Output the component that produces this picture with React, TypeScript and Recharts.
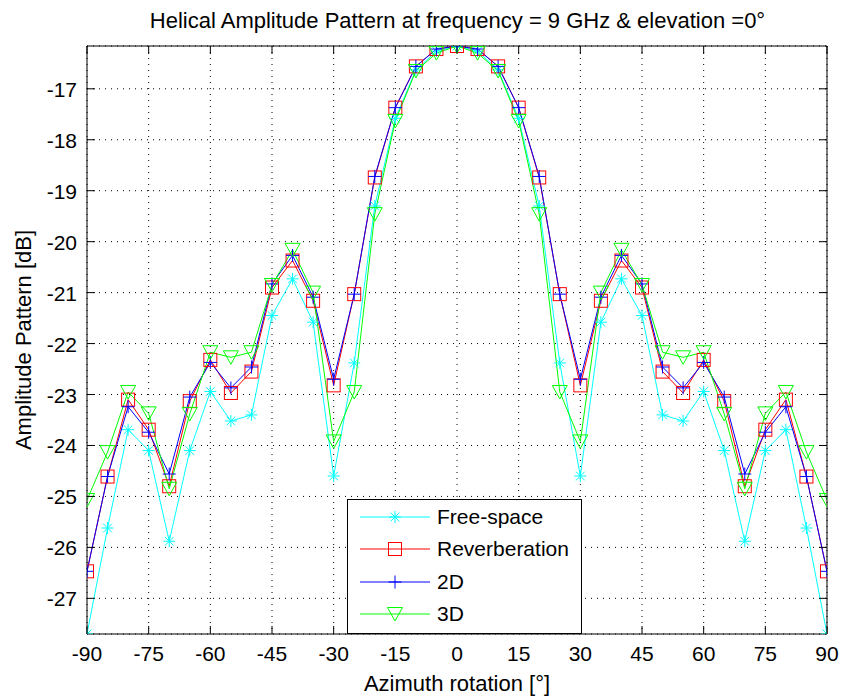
import { LineChart, Line, XAxis, YAxis, CartesianGrid, Legend } from "recharts";

const azimuth = [-90, -85, -80, -75, -70, -65, -60, -55, -50, -45, -40, -35, -30, -25, -20, -15, -10, -5, 0,
  5, 10, 15, 20, 25, 30, 35, 40, 45, 50, 55, 60, 65, 70, 75, 80, 85, 90];

const freeSpace = [-27.7, -25.62, -23.69, -24.1, -25.88, -24.1, -22.94, -23.52, -23.4, -21.45, -20.73, -21.58, -24.6, -22.38, -19.3, -17.58, -16.63, -16.26, -16.16,
  -16.26, -16.63, -17.58, -19.3, -22.38, -24.6, -21.58, -20.73, -21.45, -23.4, -23.52, -22.94, -24.1, -25.88, -24.1, -23.69, -25.62, -27.7];

const reverberation = [-26.47, -24.61, -23.1, -23.69, -24.8, -23.13, -22.32, -22.97, -22.55, -20.9, -20.37, -21.16, -22.82, -21.03, -18.74, -17.37, -16.56, -16.22, -16.16,
  -16.22, -16.56, -17.37, -18.74, -21.03, -22.82, -21.16, -20.37, -20.9, -22.55, -22.97, -22.32, -23.13, -24.8, -23.69, -23.1, -24.61, -26.47];

const twoD = [-26.47, -24.61, -23.24, -23.74, -24.56, -23.05, -22.37, -22.87, -22.46, -20.83, -20.27, -21.09, -22.7, -21.03, -18.72, -17.37, -16.56, -16.22, -16.16,
  -16.22, -16.56, -17.37, -18.72, -21.03, -22.7, -21.09, -20.27, -20.83, -22.46, -22.87, -22.37, -23.05, -24.56, -23.74, -23.24, -24.61, -26.47];

const threeD = [-25.07, -24.13, -22.95, -23.37, -24.85, -23.38, -22.17, -22.27, -22.17, -20.85, -20.16, -21.0, -23.92, -22.95, -19.46, -17.63, -16.65, -16.3, -16.16,
  -16.3, -16.65, -17.63, -19.46, -22.95, -23.92, -21.0, -20.16, -20.85, -22.17, -22.27, -22.17, -23.38, -24.85, -23.37, -22.95, -24.13, -25.07];

const xTicks = [-90, -75, -60, -45, -30, -15, 0, 15, 30, 45, 60, 75, 90];
const yTicks = [-27, -26, -25, -24, -23, -22, -21, -20, -19, -18, -17];
const yDomain = [-27.7, -16.16];

const data = azimuth.map((az, i) => ({
  az,
  free: freeSpace[i],
  reverb: reverberation[i],
  twoD: twoD[i],
  threeD: threeD[i],
}));

const FONT = '"Liberation Sans", Arial, sans-serif';
const PLOT_W = 741;

// marker shapes, matlab style
function Star({ cx, cy, stroke }: any) {
  const r = 6, d = 4.3;
  return (
    <g stroke={stroke} strokeWidth={1}>
      <line x1={cx - r} y1={cy} x2={cx + r} y2={cy} />
      <line x1={cx} y1={cy - r} x2={cx} y2={cy + r} />
      <line x1={cx - d} y1={cy - d} x2={cx + d} y2={cy + d} />
      <line x1={cx - d} y1={cy + d} x2={cx + d} y2={cy - d} />
    </g>
  );
}

function Square({ cx, cy, stroke }: any) {
  return <rect x={cx - 6.5} y={cy - 6.5} width={13} height={13} fill="none" stroke={stroke} strokeWidth={1} />;
}

function Plus({ cx, cy, stroke }: any) {
  const r = 6.5;
  return (
    <g stroke={stroke} strokeWidth={1}>
      <line x1={cx - r} y1={cy} x2={cx + r} y2={cy} />
      <line x1={cx} y1={cy - r} x2={cx} y2={cy + r} />
    </g>
  );
}

function TriDown({ cx, cy, stroke }: any) {
  const pts = `${cx - 7.5},${cy - 6.5} ${cx + 7.5},${cy - 6.5} ${cx},${cy + 7}`;
  return <polygon points={pts} fill="none" stroke={stroke} strokeWidth={1} />;
}

const series = [
  { key: "free", name: "Free-space", color: "#00ffff", Marker: Star },
  { key: "reverb", name: "Reverberation", color: "#ff0000", Marker: Square },
  { key: "twoD", name: "2D", color: "#0000ff", Marker: Plus },
  { key: "threeD", name: "3D", color: "#00ff00", Marker: TriDown },
];

function BottomTick({ x, y, payload }: any) {
  return (
    <g>
      <line x1={x} x2={x} y1={y} y2={y - 8} stroke="#000" />
      <text x={x} y={y + 27} textAnchor="middle" fontSize={21} fontFamily={FONT} fill="#000">{payload.value}</text>
    </g>
  );
}

function TopTick({ x, y }: any) {
  return <line x1={x} x2={x} y1={y} y2={y + 8} stroke="#000" />;
}

function LeftTick({ x, y, payload }: any) {
  return (
    <g>
      <line x1={x} x2={x + 8} y1={y} y2={y} stroke="#000" />
      <text x={x - 10} y={y + 8} textAnchor="end" fontSize={21} fontFamily={FONT} fill="#000">{payload.value}</text>
    </g>
  );
}

function RightTick({ x, y }: any) {
  return <line x1={x} x2={x - 8} y1={y} y2={y} stroke="#000" />;
}

function XTitle({ viewBox }: any) {
  const { x, y, width } = viewBox;
  return (
    <text x={x + width / 2} y={y + 57} textAnchor="middle" fontSize={22} fontFamily={FONT} fill="#000">
      Azimuth rotation [°]
    </text>
  );
}

// y label + chart title, both hung off the left axis box
function YTitle({ viewBox }: any) {
  const { x, y, width, height } = viewBox;
  const cy = y + height / 2;
  const plotLeft = x + width;
  return (
    <g>
      <text x={31} y={cy} transform={`rotate(-90 31 ${cy})`} textAnchor="middle" fontSize={22} fontFamily={FONT} fill="#000">
        Amplitude Pattern [dB]
      </text>
      <text x={plotLeft + PLOT_W / 2} y={y - 18} textAnchor="middle" fontSize={22} fontFamily={FONT} fill="#000">
        Helical Amplitude Pattern at frequency = 9 GHz &amp; elevation =0°
      </text>
    </g>
  );
}

function LegendBox() {
  return (
    <div style={{ width: 233, height: 133, border: "1px solid #000", background: "#fff", fontFamily: FONT, fontSize: 21, boxSizing: "content-box" }}>
      {series.map((s, i) => (
        <div key={s.key} style={{ position: "absolute", left: 0, top: 8 + i * 32.3, height: 20, display: "flex", alignItems: "center" }}>
          <svg width={90} height={20} style={{ display: "block" }}>
            <line x1={13} x2={83} y1={10} y2={10} stroke={s.color} strokeWidth={1} />
            <s.Marker cx={48} cy={10} stroke={s.color} />
          </svg>
          <span style={{ lineHeight: "20px", color: "#000" }}>{s.name}</span>
        </div>
      ))}
    </div>
  );
}

export default function App() {
  return (
    <div style={{ position: "absolute", left: 0, top: 0, width: 848, height: 700, background: "#fff" }}>
      <LineChart width={848} height={700} data={data} margin={{ top: 45, right: 20, bottom: 0, left: 0 }}>
        <CartesianGrid stroke="#000" strokeDasharray="1 5" vertical horizontal />
        <XAxis dataKey="az" type="number" domain={[-90, 90]} ticks={xTicks} interval={0} height={66}
          tickSize={0} tickMargin={0} tickLine={false} axisLine={{ stroke: "#000" }} tick={<BottomTick />}
          label={<XTitle />} allowDataOverflow />
        <XAxis xAxisId="top" dataKey="az" orientation="top" type="number" domain={[-90, 90]} ticks={xTicks} interval={0} height={1}
          tickSize={0} tickMargin={0} tickLine={false} axisLine={{ stroke: "#000" }} tick={<TopTick />} allowDataOverflow />
        <YAxis type="number" domain={yDomain} ticks={yTicks} interval={0} width={87}
          tickSize={0} tickMargin={0} tickLine={false} axisLine={{ stroke: "#000" }} tick={<LeftTick />}
          label={<YTitle />} allowDataOverflow />
        <YAxis yAxisId="right" orientation="right" type="number" domain={yDomain} ticks={yTicks} interval={0} width={1}
          tickSize={0} tickMargin={0} tickLine={false} axisLine={{ stroke: "#000" }} tick={<RightTick />} allowDataOverflow />
        {/* invisible series so the top/right frame axes have something bound to them */}
        <Line xAxisId="top" yAxisId="right" dataKey="free" stroke="none" dot={false} activeDot={false}
          legendType="none" isAnimationActive={false} />
        {series.map((s) => (
          <Line key={s.key} type="linear" dataKey={s.key} name={s.name} stroke={s.color} strokeWidth={1}
            dot={(p: any) => <s.Marker key={`${s.key}-${p.index}`} cx={p.cx} cy={p.cy} stroke={s.color} />}
            activeDot={false} isAnimationActive={false} />
        ))}
        <Legend layout="horizontal" verticalAlign="middle" align="center" content={<LegendBox />}
          wrapperStyle={{ left: 347, top: 499, width: 235, height: 135 }} />
      </LineChart>
    </div>
  );
}
